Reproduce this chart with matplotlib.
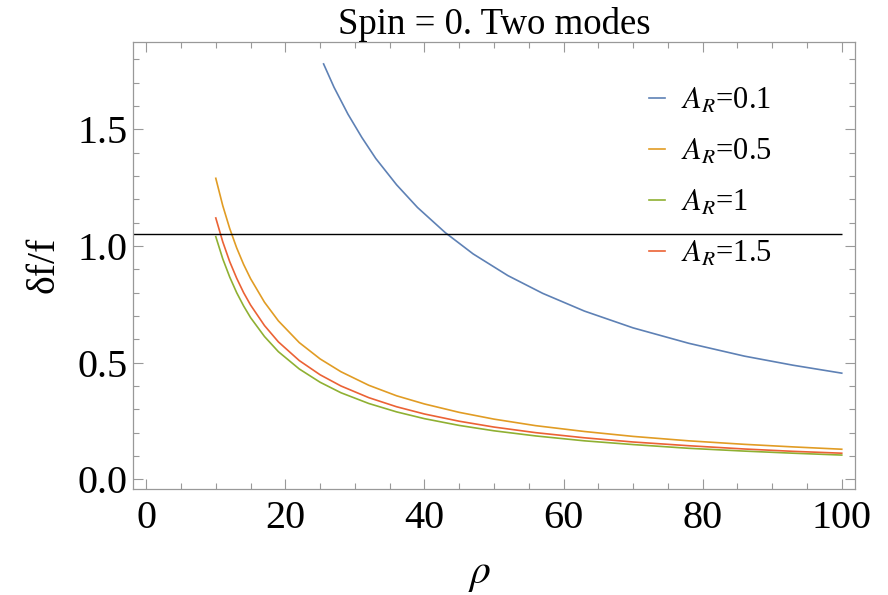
import numpy as np
import matplotlib
matplotlib.use("Agg")
import matplotlib.pyplot as plt
from matplotlib.ticker import MultipleLocator

plt.rcParams['font.family'] = ['Liberation Serif', 'DejaVu Serif']
plt.rcParams['mathtext.fontset'] = 'stix'

# values
rho = [10, 11, 12, 13, 14, 15, 17, 19, 22, 25, 28, 32, 36, 40, 45, 50,
       56, 63, 70, 78, 86, 93, 100]
rho_blue = [25.5, 27, 29, 31, 33, 36, 39, 43, 47, 52, 57, 63, 70, 78, 86, 93, 100]
blue = [1.78, 1.68, 1.565, 1.465, 1.375, 1.262, 1.165, 1.057, 0.966, 0.873,
        0.797, 0.721, 0.649, 0.583, 0.528, 0.489, 0.455]
orange = [1.29, 1.173, 1.075, 0.992, 0.921, 0.860, 0.759, 0.679, 0.586, 0.516,
          0.461, 0.403, 0.358, 0.323, 0.287, 0.258, 0.230, 0.205, 0.184, 0.165,
          0.150, 0.139, 0.129]
red = [1.12, 1.018, 0.933, 0.862, 0.800, 0.747, 0.659, 0.589, 0.509, 0.448,
       0.400, 0.350, 0.311, 0.280, 0.249, 0.224, 0.200, 0.178, 0.160, 0.144,
       0.130, 0.120, 0.112]
green = [1.04, 0.945, 0.867, 0.800, 0.743, 0.693, 0.612, 0.547, 0.473, 0.416,
         0.371, 0.325, 0.289, 0.260, 0.231, 0.208, 0.186, 0.165, 0.149, 0.133,
         0.121, 0.112, 0.104]
threshold = 1.05
labels = ['0.1', '0.5', '1', '1.5']
colors = ['#5E81B5', '#E19C24', '#8FB032', '#EB6235']

fig = plt.figure(figsize=(8.88, 5.95), dpi=100)
ax = fig.add_axes([0.1498, 0.1787, 0.8130, 0.7507])

ax.plot(rho_blue, blue, color=colors[0], lw=1.2, label=r'$A_R$=' + labels[0])
ax.plot(rho, orange, color=colors[1], lw=1.2, label=r'$A_R$=' + labels[1])
ax.plot(rho, green, color=colors[2], lw=1.2, label=r'$A_R$=' + labels[2])
ax.plot(rho, red, color=colors[3], lw=1.2, label=r'$A_R$=' + labels[3])

ax.set_xlim(-1.9, 101.9)
ax.set_ylim(-0.04, 1.874)
ax.hlines(threshold, ax.get_xlim()[0], rho[-1], color='black', lw=1.0)

ax.xaxis.set_major_locator(MultipleLocator(20))
ax.xaxis.set_minor_locator(MultipleLocator(5))
ax.yaxis.set_major_locator(MultipleLocator(0.5))
ax.yaxis.set_minor_locator(MultipleLocator(0.1))
ax.tick_params(which='both', direction='in', top=True, right=True,
               color='#999999', width=0.8)
ax.tick_params(which='major', length=7, labelsize=29)
ax.tick_params(axis='y', which='major', pad=4)
ax.tick_params(axis='x', which='major', pad=8)
ax.tick_params(which='minor', length=4)
for s in ax.spines.values():
    s.set_color('#999999')
    s.set_linewidth(0.9)

ax.set_title('Spin = 0. Two modes', fontsize=26.5, pad=3)
ax.set_xlabel(r'$\rho$', fontsize=30)
ax.xaxis.label.set_va('center')
ax.xaxis.set_label_coords(0.48, -0.193)
ax.set_ylabel('δf/f', fontsize=28.5)
ax.yaxis.set_label_coords(-0.098, 0.5)

ax.legend(frameon=False, loc='upper left', bbox_to_anchor=(0.693, 0.935),
          fontsize=22, handlelength=0.55, handletextpad=0.5, labelspacing=0.72,
          borderpad=0)

fig.savefig('out.png', dpi=100)
